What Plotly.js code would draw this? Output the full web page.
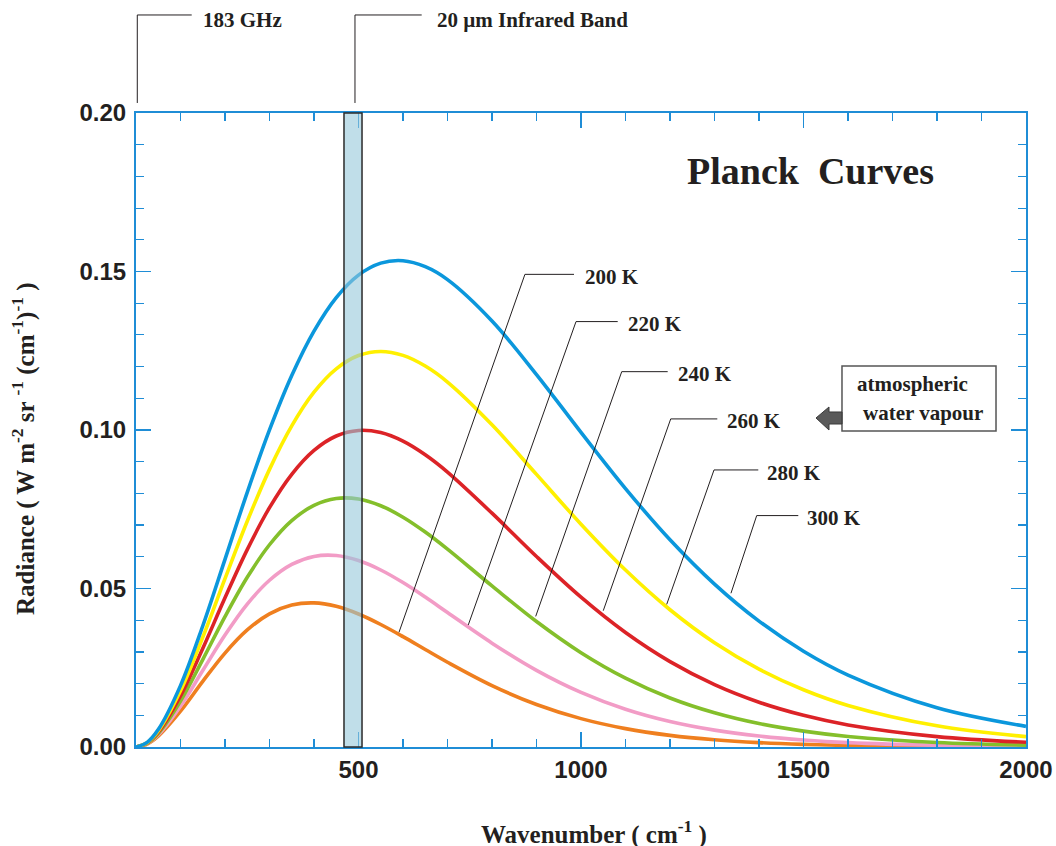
<!DOCTYPE html>
<html>
<head>
<meta charset="utf-8">
<script src="https://cdn.plot.ly/plotly-3.0.1.min.js"></script>
<style>html,body{margin:0;padding:0;background:#fff;}#chart{width:1056px;height:846px;}</style>
</head>
<body>
<div id="chart"></div>
<script>
// Wavenumber grid (cm^-1) and radiance values
const wavenumber = [0,25,50,100,150,200,250,300,350,400,450,500,550,600,650,700,800,900,1000,1100,1200,1300,1400,1500,1600,1800,2000];
const rad200 = [0,0.00094,0.00344,0.01131,0.02070,0.02963,0.03692,0.04201,0.04479,0.04545,0.04437,0.04195,0.03864,0.03481,0.03076,0.02674,0.01937,0.01341,0.00895,0.00580,0.00367,0.00227,0.00138,0.00083,0.00049,0.00017,0.00005];
const rad220 = [0,0.00105,0.00385,0.01290,0.02411,0.03531,0.04507,0.05260,0.05761,0.06011,0.06039,0.05882,0.05584,0.05187,0.04729,0.04242,0.03276,0.02419,0.01723,0.01192,0.00804,0.00532,0.00345,0.00221,0.00139,0.00054,0.00020];
const rad240 = [0,0.00115,0.00426,0.01450,0.02758,0.04113,0.05354,0.06380,0.07141,0.07622,0.07839,0.07822,0.07611,0.07250,0.06781,0.06242,0.05081,0.03958,0.02975,0.02172,0.01547,0.01080,0.00740,0.00500,0.00333,0.00143,0.00059];
const rad260 = [0,0.00125,0.00467,0.01611,0.03108,0.04707,0.06227,0.07549,0.08602,0.09356,0.09810,0.09986,0.09918,0.09647,0.09217,0.08671,0.07376,0.06008,0.04725,0.03610,0.02692,0.01967,0.01412,0.00999,0.00697,0.00328,0.00149];
const rad280 = [0,0.00136,0.00508,0.01773,0.03461,0.05309,0.07121,0.08758,0.10131,0.11194,0.11930,0.12349,0.12478,0.12353,0.12017,0.11512,0.10164,0.08600,0.07029,0.05583,0.04330,0.03290,0.02457,0.01807,0.01312,0.00668,0.00328];
const rad300 = [0,0.00146,0.00549,0.01936,0.03817,0.05920,0.08033,0.10001,0.11718,0.13120,0.14178,0.14887,0.15264,0.15340,0.15153,0.14745,0.13440,0.11747,0.09924,0.08151,0.06538,0.05139,0.03971,0.03022,0.02270,0.01238,0.00651];

const temperatureLabels = ['200 K','220 K','240 K','260 K','280 K','300 K'];
const xTickVals = [500,1000,1500,2000];
const yTickVals = [0,0.05,0.10,0.15,0.20];

const series = [rad200, rad220, rad240, rad260, rad280, rad300];
const colors = ['#ef7f1f','#f29cc6','#84bf2b','#dc2327','#fff000','#0b97dc'];

const traces = series.map((ys,i)=>({
  x: wavenumber, y: ys, type:'scatter', mode:'lines', name: temperatureLabels[i],
  line:{color:colors[i], width:3.6, shape:'spline', smoothing:1},
  hoverinfo:'x+y+name'
}));

const axisBlue = '#1f8dd6';
const ink = '#231f20';
const serif = 'Liberation Serif, Times New Roman, serif';
const sans = 'Liberation Sans, Arial, sans-serif';

// helpers: pixel -> paper
const px = v => (v-136)/890;
const py = v => (747-v)/634;

const annotations = [];
function txt(text, x, y, size, xanchor, extra){
  annotations.push(Object.assign({text:text, x:x, y:y, xref:'paper', yref:'paper', showarrow:false,
    xanchor:xanchor||'left', yanchor:'middle', font:{family:serif, size:size, color:ink, weight:'bold'}}, extra||{}));
}
txt('183 GHz', px(201), py(20), 21);
txt('20 µm Infrared Band', px(435), py(20), 21);
txt('Planck  Curves', px(810.5), py(171), 38, 'center');
const labelPos = [[583,276.7],[625.7,324],[675.7,374],[724.7,421.3],[764.7,472.7],[805.3,518.3]];
temperatureLabels.forEach((t,i)=>txt(t, px(labelPos[i][0]), py(labelPos[i][1]), 21));
txt('atmospheric', px(912), py(384), 21, 'center');
txt('water vapour', px(922.5), py(413), 21, 'center');
txt('Wavenumber ( cm<sup>-1</sup> )', px(594), py(832), 25, 'center');
txt('Radiance ( W m<sup>-2</sup> sr <sup>-1</sup> (cm<sup>-1</sup>)<sup>-1</sup> )', px(23), py(449), 25, 'center', {textangle:-90});

const shapes = [
  {type:'rect', xref:'x', yref:'paper', x0:467.4, x1:507.9, y0:0, y1:1, fillcolor:'rgba(150,200,218,0.6)', line:{color:'#2b2b2b', width:1.5}, layer:'above'},
  {type:'path', xref:'x', yref:'paper', path:'M 2.9,1.0158 L 2.9,1.1546 L 125.2,1.1546', line:{color:ink, width:1}},
  {type:'path', xref:'x', yref:'paper', path:'M 492.1,1.0158 L 492.1,1.1546 L 642,1.1546', line:{color:ink, width:1}},
  {type:'path', xref:'x', yref:'y', path:'M 591,0.0362 L 874,0.1491 L 984.3,0.1491', line:{color:ink, width:1}, layer:'above'},
  {type:'path', xref:'x', yref:'y', path:'M 746.7,0.0385 L 988.8,0.1342 L 1082.5,0.1342', line:{color:ink, width:1}, layer:'above'},
  {type:'path', xref:'x', yref:'y', path:'M 898.2,0.0412 L 1091.5,0.1184 L 1194.8,0.1184', line:{color:ink, width:1}, layer:'above'},
  {type:'path', xref:'x', yref:'y', path:'M 1050,0.0430 L 1201.6,0.1035 L 1306.3,0.1035', line:{color:ink, width:1}, layer:'above'},
  {type:'path', xref:'x', yref:'y', path:'M 1192.6,0.0450 L 1298.9,0.0874 L 1398.4,0.0874', line:{color:ink, width:1}, layer:'above'},
  {type:'path', xref:'x', yref:'y', path:'M 1337,0.0485 L 1394.8,0.0730 L 1488.3,0.0730', line:{color:ink, width:1}, layer:'above'},
  {type:'rect', xref:'x', yref:'y', x0:1586.5, x1:1932.6, y0:0.0997, y1:0.1202, fillcolor:'#ffffff', line:{color:'#555555', width:1.5}, layer:'above'},
  {type:'path', xref:'x', yref:'y', path:'M 1528.1,0.10379 L 1557.3,0.10726 L 1557.3,0.10568 L 1586.5,0.10568 L 1586.5,0.10189 L 1557.3,0.10189 L 1557.3,0.10000 Z', fillcolor:'#5a5a5a', line:{color:'#3a3a3a', width:1}, layer:'above'}
];

const layout = {
  width:1056, height:846,
  margin:{l:136, r:30, t:113, b:99},
  paper_bgcolor:'#ffffff', plot_bgcolor:'#ffffff',
  showlegend:false,
  xaxis:{range:[0,2000], tickvals:xTickVals, ticktext:xTickVals.map(String), ticks:'inside', ticklen:15, tickwidth:1.5, tickcolor:axisBlue,
    showline:true, linecolor:axisBlue, linewidth:2, mirror:'ticks', showgrid:false, zeroline:false,
    tickfont:{family:sans, size:24, color:ink, weight:'bold'},
    minor:{dtick:100, tick0:0, ticks:'inside', ticklen:8, tickwidth:1.2, tickcolor:axisBlue, showgrid:false}},
  yaxis:{range:[0,0.2], tickvals:yTickVals, tickformat:'.2f', ticks:'inside', ticklen:15, tickwidth:1.5, tickcolor:axisBlue,
    showline:true, linecolor:axisBlue, linewidth:2, mirror:'ticks', showgrid:false, zeroline:false, ticklabelstandoff:3,
    tickfont:{family:sans, size:24, color:ink, weight:'bold'},
    minor:{dtick:0.01, tick0:0, ticks:'inside', ticklen:8, tickwidth:1.2, tickcolor:axisBlue, showgrid:false}},
  shapes:shapes,
  annotations:annotations
};

Plotly.newPlot('chart', traces, layout, {staticPlot:true, displayModeBar:false});
</script>
</body>
</html>
